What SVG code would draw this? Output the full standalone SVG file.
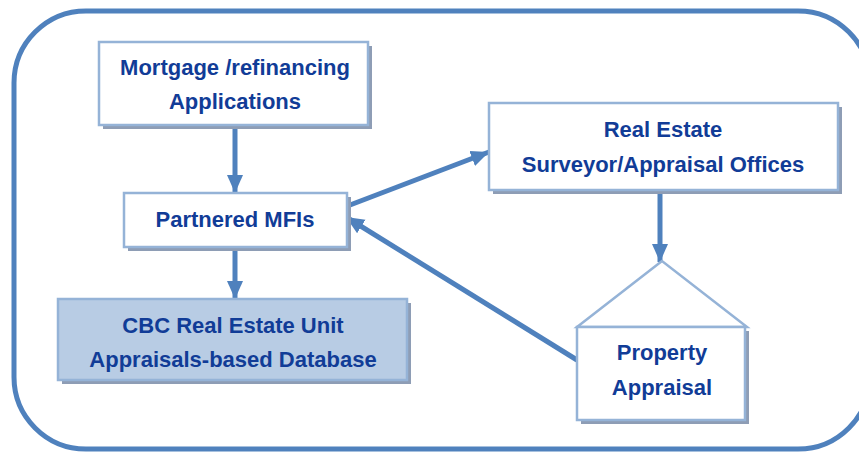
<svg xmlns="http://www.w3.org/2000/svg" width="859" height="452" viewBox="0 0 859 452">
<style>
.box{fill:#ffffff;stroke:#95b3d7;stroke-width:2.5}
.shadow{fill:#8e9db5}
.t{font-family:"Liberation Sans",Arial,sans-serif;font-weight:bold;font-size:22px;fill:#113c97;text-anchor:middle}
.c{stroke:#4f81bd;stroke-width:5;fill:none}
</style>
<defs>
<marker id="ah" markerUnits="userSpaceOnUse" markerWidth="20" markerHeight="20" viewBox="0 0 20 20" refX="18" refY="10" orient="auto">
<polygon points="0,2 18,10 0,18" fill="#4f81bd"/>
</marker>
</defs>
<rect x="14" y="11" width="856" height="438" rx="72" ry="72" fill="#ffffff" stroke="#4f81bd" stroke-width="5"/>
<g id="connectors">
<line class="c" x1="235" y1="128" x2="235" y2="193" marker-end="url(#ah)"/>
<line class="c" x1="235" y1="250" x2="235" y2="299" marker-end="url(#ah)"/>
<line class="c" x1="350" y1="205" x2="489" y2="152" marker-end="url(#ah)"/>
<line class="c" x1="660" y1="193" x2="660" y2="262" marker-end="url(#ah)"/>
<line class="c" x1="577" y1="360" x2="346" y2="217" marker-end="url(#ah)"/>
</g>
<g id="mortgage">
<rect class="shadow" x="103" y="46" width="269" height="83"/>
<rect class="box" x="99" y="42" width="269" height="83"/>
<text class="t" x="235" y="75">Mortgage /refinancing</text>
<text class="t" x="235" y="109">Applications</text>
</g>
<g id="mfis">
<rect class="shadow" x="128" y="197" width="223" height="54"/>
<rect class="box" x="124" y="193" width="223" height="54"/>
<text class="t" x="235" y="227">Partnered MFIs</text>
</g>
<g id="cbc">
<rect class="shadow" x="62" y="303" width="349" height="81"/>
<rect class="box" x="58" y="299" width="349" height="81" style="fill:#b8cce4"/>
<text class="t" x="233" y="333">CBC Real Estate Unit</text>
<text class="t" x="233" y="367">Appraisals-based Database</text>
</g>
<g id="surveyor">
<rect class="shadow" x="493" y="107" width="349" height="87"/>
<rect class="box" x="489" y="103" width="349" height="87"/>
<text class="t" x="663" y="137">Real Estate</text>
<text class="t" x="663" y="172">Surveyor/Appraisal Offices</text>
</g>
<g id="property">
<polygon points="662,261 577,327 747,327" fill="#ffffff" stroke="#95b3d7" stroke-width="2.5"/>
<rect class="shadow" x="581" y="331" width="168" height="93"/>
<rect class="box" x="577" y="327" width="168" height="93"/>
<text class="t" x="662" y="360">Property</text>
<text class="t" x="662" y="395">Appraisal</text>
</g>
</svg>
